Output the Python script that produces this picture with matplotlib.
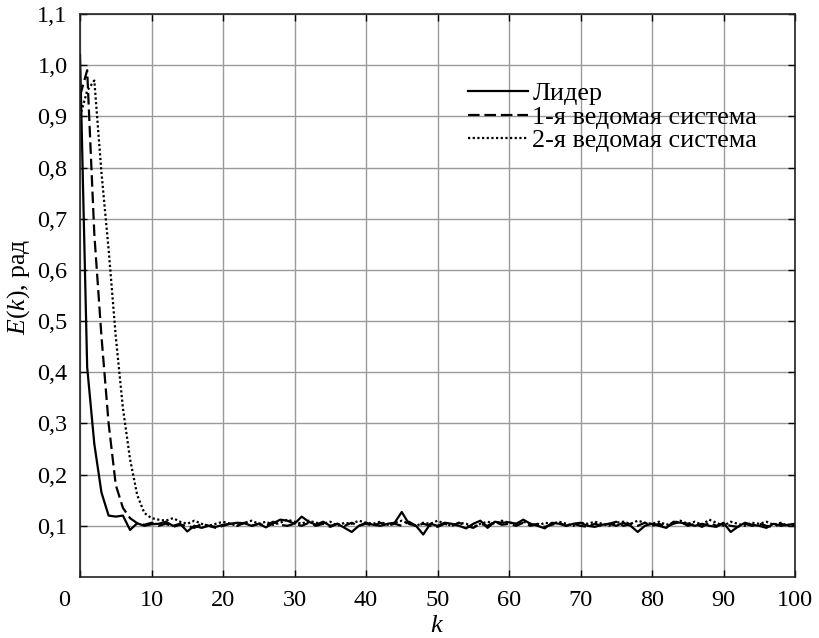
import numpy as np
import matplotlib
matplotlib.use("Agg")
import matplotlib.pyplot as plt
from matplotlib.transforms import ScaledTranslation

plt.rcParams['font.family'] = ['Liberation Serif', 'DejaVu Serif']
plt.rcParams['mathtext.fontset'] = 'custom'
plt.rcParams['mathtext.rm'] = 'Liberation Serif'
plt.rcParams['mathtext.it'] = 'Liberation Serif:italic'

# -----------------------------------
# Data
# -----------------------------------

k = np.arange(0, 101)

leader = [1.02, 0.41, 0.26, 0.165, 0.12, 0.118, 0.12, 0.092, 0.105, 0.1,
          0.103, 0.104, 0.108, 0.1, 0.104, 0.089, 0.1, 0.096, 0.1, 0.098,
          0.102, 0.104, 0.106, 0.105, 0.1, 0.104, 0.097, 0.105, 0.112, 0.11,
          0.104, 0.118, 0.108, 0.102, 0.108, 0.1, 0.104, 0.096, 0.088, 0.1,
          0.106, 0.102, 0.1, 0.104, 0.106, 0.127, 0.104, 0.1, 0.083, 0.104,
          0.1, 0.106, 0.104, 0.1, 0.095, 0.104, 0.11, 0.096, 0.108, 0.106,
          0.107, 0.104, 0.112, 0.104, 0.1, 0.095, 0.106, 0.104, 0.1, 0.104,
          0.106, 0.1, 0.098, 0.102, 0.104, 0.1, 0.106, 0.1, 0.088, 0.1,
          0.104, 0.1, 0.096, 0.108, 0.106, 0.104, 0.1, 0.104, 0.1, 0.098,
          0.106, 0.088, 0.098, 0.106, 0.102, 0.1, 0.096, 0.104, 0.1, 0.102,
          0.104]

follower1 = [0.94, 0.99, 0.67, 0.47, 0.30, 0.18, 0.135, 0.115, 0.105, 0.102,
             0.106, 0.1, 0.104, 0.098, 0.102, 0.1, 0.096, 0.104, 0.1, 0.096,
             0.1, 0.104, 0.1, 0.106, 0.1, 0.104, 0.1, 0.108, 0.102, 0.1,
             0.104, 0.1, 0.106, 0.1, 0.104, 0.098, 0.104, 0.1, 0.106, 0.1,
             0.104, 0.1, 0.106, 0.1, 0.104, 0.1, 0.108, 0.1, 0.104, 0.1,
             0.098, 0.104, 0.1, 0.106, 0.1, 0.096, 0.104, 0.1, 0.108, 0.102,
             0.104, 0.1, 0.106, 0.1, 0.104, 0.098, 0.102, 0.106, 0.1, 0.104,
             0.1, 0.098, 0.104, 0.1, 0.104, 0.108, 0.1, 0.104, 0.1, 0.106,
             0.1, 0.104, 0.098, 0.104, 0.108, 0.1, 0.104, 0.098, 0.106, 0.1,
             0.104, 0.1, 0.098, 0.104, 0.1, 0.104, 0.1, 0.098, 0.104, 0.1,
             0.102]

follower2 = [0.90, 0.95, 0.97, 0.79, 0.64, 0.47, 0.33, 0.23, 0.16, 0.125,
             0.115, 0.112, 0.11, 0.115, 0.108, 0.104, 0.11, 0.104, 0.1, 0.104,
             0.108, 0.104, 0.1, 0.106, 0.11, 0.104, 0.108, 0.102, 0.106, 0.112,
             0.108, 0.104, 0.11, 0.106, 0.104, 0.108, 0.1, 0.106, 0.104, 0.11,
             0.106, 0.104, 0.108, 0.102, 0.106, 0.11, 0.104, 0.1, 0.106, 0.104,
             0.11, 0.104, 0.1, 0.106, 0.104, 0.098, 0.104, 0.108, 0.104, 0.11,
             0.106, 0.104, 0.108, 0.104, 0.1, 0.106, 0.104, 0.108, 0.104, 0.1,
             0.106, 0.104, 0.108, 0.104, 0.1, 0.106, 0.108, 0.104, 0.11, 0.106,
             0.104, 0.108, 0.102, 0.106, 0.11, 0.104, 0.108, 0.102, 0.112, 0.106,
             0.1, 0.108, 0.104, 0.1, 0.106, 0.104, 0.108, 0.102, 0.106, 0.1,
             0.104]

labels = ["Лидер", "1-я ведомая система", "2-я ведомая система"]

x_ticks = np.arange(0, 101, 10)
y_ticks = np.round(np.arange(0.1, 1.11, 0.1), 1)

# -----------------------------------
# Plot
# -----------------------------------

fig = plt.figure(figsize=(8.19, 6.38), dpi=100)
ax = fig.add_axes([0.0977, 0.0956, 0.873, 0.8825])

ax.plot(k, leader, color='black', linewidth=1.6, linestyle='-', label=labels[0])
ax.plot(k, follower1, color='black', linewidth=1.6, linestyle=(0, (5.2, 2.2)), label=labels[1])
ax.plot(k, follower2, color='black', linewidth=1.6, linestyle=(0, (1, 1.1)), label=labels[2])

ax.set_xlim(0, 100)
ax.set_ylim(0, 1.1)

ax.set_xticks(x_ticks)
ax.set_xticklabels([str(t) for t in x_ticks])
ax.set_yticks(y_ticks)
ax.set_yticklabels([f"{t:.1f}".replace('.', ',') for t in y_ticks])

ax.tick_params(direction='in', length=5, width=1.0, top=True, right=True,
               labelsize=17.5, colors='black', pad=9)
ax.grid(True, color='#9a9a9a', linewidth=1.0)
for s in ax.spines.values():
    s.set_linewidth(1.2)
    s.set_color('#222222')

# shift the "0" label to the corner
lbl0 = ax.get_xticklabels()[0]
lbl0.set_transform(lbl0.get_transform() + ScaledTranslation(-0.16, 0.0, fig.dpi_scale_trans))

ax.set_xlabel("$k$", fontsize=19, labelpad=3)
ax.set_ylabel("$E(k)$, рад", fontsize=18.5, labelpad=4, y=0.515)

ax.legend(loc='upper left', bbox_to_anchor=(0.525, 0.902), frameon=False,
          fontsize=18.8, handlelength=2.3, handletextpad=0.15, labelspacing=0.0,
          borderpad=0)

fig.savefig("out.png", dpi=100)
plt.close()
